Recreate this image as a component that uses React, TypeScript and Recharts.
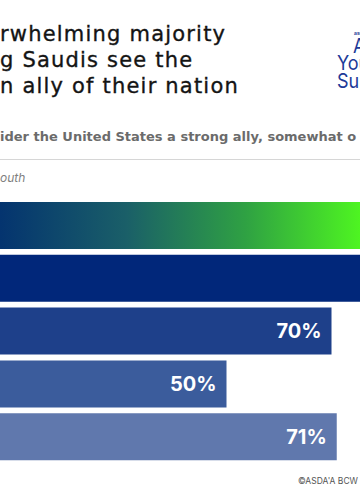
import React from 'react'
import { BarChart, Bar, XAxis, YAxis, Cell, LabelList } from 'recharts'

const YEARS = ['2024', '2023', '2022', '2021', '2020']
const ALLY_SHARE = [90, 88, 70, 50, 71]
const BAR_COLORS = ['url(#allyGradient)', '#01277a', '#1e408a', '#3b5c9c', '#6078ad']

const TITLE_LINES = ['rwhelming majority', 'g Saudis see the', 'n ally of their nation']

const data = YEARS.map((year, i) => ({ year, value: ALLY_SHARE[i] }))

const FONT = 'Inter, "Noto Sans", sans-serif'
const WIDE = '"DejaVu Sans", Inter, sans-serif'

export default function App() {
  return (
    <div
      style={{
        position: 'absolute',
        left: 0,
        top: 0,
        width: 360,
        height: 504,
        overflow: 'hidden',
        background: '#ffffff',
        fontFamily: FONT,
      }}
    >
      <svg width={360} height={504} style={{ position: 'absolute', left: 0, top: 0 }}>
        {TITLE_LINES.map((line, i) => (
          <text
            key={line}
            x={0}
            y={41 + i * 26}
            fontSize={21}
            fontWeight={400}
            letterSpacing={1.2}
            fill="#141414"
            fontFamily={WIDE}
            stroke="#141414"
            strokeWidth={0.35}
          >
            {line}
          </text>
        ))}

        <text x={354} y={35} fontSize={5} fontWeight={700} fill="#1d3a98" fontFamily={FONT}>
          asda'a
        </text>
        <g fontFamily={FONT} fill="#1d3a98" fontSize={20}>
          <text x={353} y={53} transform="translate(353 0) scale(0.9 1) translate(-353 0)">Arab</text>
          <text x={337} y={70} transform="translate(337 0) scale(0.9 1) translate(-337 0)">Youth</text>
          <text x={337} y={88} transform="translate(337 0) scale(0.9 1) translate(-337 0)">Survey</text>
        </g>

        <text x={0} y={141} fontSize={13} fontWeight={700} fill="#6b6b6b" fontFamily={WIDE}>
          ider the United States a strong ally, somewhat o
        </text>
        <line x1={0} x2={360} y1={159.5} y2={159.5} stroke="#d6d6d6" strokeWidth={1} />
        <text x={0} y={182} fontSize={12} fontStyle="italic" fill="#808080" fontFamily={FONT}>
          outh
        </text>

        <text x={358} y={484} textAnchor="end" fontSize={8.5} fill="#555555" fontFamily={FONT}>
          ©ASDA'A BCW
        </text>
      </svg>

      <div style={{ position: 'absolute', left: -36.5, top: 199 }}>
        <BarChart
          width={525}
          height={264}
          data={data}
          layout="vertical"
          margin={{ top: 0, right: 0, bottom: 0, left: 0 }}
        >
          <defs>
            <linearGradient id="allyGradient" gradientUnits="userSpaceOnUse" x1={36.5} y1={0} x2={396.5} y2={0}>
              <stop offset="0%" stopColor="#04346f" />
              <stop offset="35%" stopColor="#1a5f68" />
              <stop offset="68%" stopColor="#2fa143" />
              <stop offset="100%" stopColor="#4ef521" />
            </linearGradient>
          </defs>
          <XAxis type="number" domain={[0, 100]} hide />
          <YAxis type="category" dataKey="year" hide />
          <Bar dataKey="value" barSize={47} isAnimationActive={false}>
            {data.map((d, i) => (
              <Cell key={d.year} fill={BAR_COLORS[i]} />
            ))}
            <LabelList
              dataKey="value"
              position="insideRight"
              offset={10}
              formatter={(v: number) => `${v}%`}
              fill="#ffffff"
              fontSize={20}
              fontWeight={700}
              fontFamily={FONT}
            />
          </Bar>
        </BarChart>
      </div>
    </div>
  )
}
